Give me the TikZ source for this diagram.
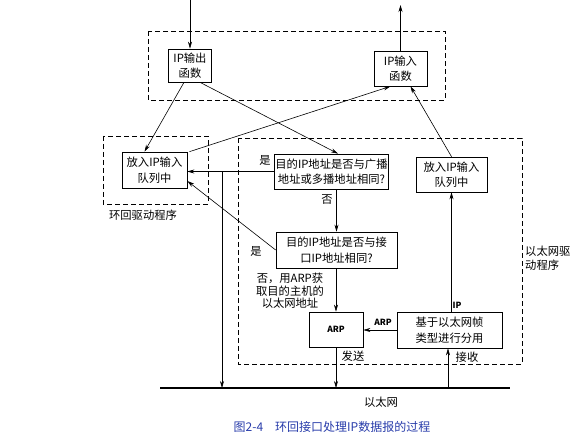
\documentclass[tikz,border=0pt]{standalone}
\usepackage{fontspec}
\setmainfont{Noto Sans CJK SC}
\usetikzlibrary{arrows.meta,calc}
\definecolor{capblue}{RGB}{40,60,170}
\tikzset{
  box/.style={draw,line width=0.7pt,align=center,inner sep=1pt,font=\fontsize{11.3}{15.5}\selectfont},
  dbox/.style={draw,dashed,line width=0.7pt,dash pattern=on 5pt off 3pt},
  arr/.style={-{Stealth[length=7pt,width=4pt]},line width=0.6pt},
  lbl/.style={font=\fontsize{11.3}{14}\selectfont,align=center,inner sep=0pt},
  small/.style={font=\fontsize{8.5}{10}\selectfont\bfseries,inner sep=0pt}
}
\begin{document}
\begin{tikzpicture}[x=1pt,y=-1pt]
\useasboundingbox (0,0) rectangle (579,435);
% dashed enclosures
\draw[dbox] (148,31) rectangle (445,100);
\draw[dbox] (103,136) rectangle (208,204);
\draw[dbox] (238,138) rectangle (522,364);
% boxes
\node[box,minimum width=43pt,minimum height=33pt] (out) at (190,65.5) {IP输出\\函数};
\node[box,minimum width=53pt,minimum height=35pt] (in) at (400.5,68.5) {IP输入\\函数};
\node[box,minimum width=65pt,minimum height=36pt] (lq) at (154.5,170) {放入IP输入\\队列中};
\node[box,minimum width=108pt,minimum height=35pt] (d1) at (331.5,171.5) {目的IP地址是否与广播\\地址或多播地址相同?};
\node[box,minimum width=71pt,minimum height=35pt] (rq) at (451.5,174.5) {放入IP输入\\队列中};
\node[box,minimum width=121pt,minimum height=36pt] (d2) at (336.5,250) {目的IP地址是否与接\\口IP地址相同?};
\node[box,minimum width=54pt,minimum height=35pt,font=\fontsize{8.5}{10}\selectfont\bfseries] (arp) at (336,329.5) {ARP};
\node[box,minimum width=105pt,minimum height=36pt] (demux) at (449.5,330) {基于以太网帧\\类型进行分用};
% ethernet
\coordinate (ethL) at (160,388);
\coordinate (ethR) at (510,388);
\draw[line width=2pt] (ethL) -- (ethR);
\coordinate (eth) at (0,388);
% external arrows
\coordinate (topin) at (190,0);
\coordinate (topout) at (400.5,5);
\draw[arr] (topin) -- (out.north);
\draw[arr] (in.north) -- (topout);
% connectors
\draw[arr] ([xshift=-6pt]out.south) -- ([xshift=-10pt]lq.north);
\draw[arr] ([xshift=10pt]out.south) -- ([xshift=6.5pt]d1.north);
\draw[arr] ([xshift=35pt]lq.north) -- ([xshift=-10pt]in.south);
\draw[arr] (rq.north) -- ([xshift=10pt]in.south);
\draw[arr] (d1.west) -- (d1.west -| lq.east);
\coordinate (j1) at (222,171.5);
\draw[arr] (j1) -- (j1 |- eth);
\draw[arr] (d2.west) -- ($(lq.east)+(0,11)$);
\draw[arr] (d2.north |- d1.south) -- (d2.north);
\draw[arr] (d2.south -| arp.north) -- (arp.north);
\draw[arr] (demux.west) -- (demux.west -| arp.east);
\draw[arr] (rq.south |- demux.north) -- (rq.south);
\draw[arr] (arp.south) -- (arp.south |- eth);
\coordinate (rx) at (448,388);
\draw[arr] (rx) -- (rx |- demux.south);
% labels
\node[lbl] (l1) at (265,160) {是};
\node[lbl] (l2) at (327,200) {否};
\node[lbl] (l3) at (256,251) {是};
\node[lbl,font=\fontsize{11.3}{12.5}\selectfont] (l4) at (290,291) {否，用ARP获\\取目的主机的\\以太网地址};
\node[small] (l5) at (383,322) {ARP};
\node[small] (l6) at (457,305) {IP};
\node[lbl] (l7) at (353,356) {发送};
\node[lbl] (l8) at (467,357) {接收};
\node[lbl] (l9) at (381,402) {以太网};
\node[lbl] (l10) at (143,215) {环回驱动程序};
\node[lbl,align=left,anchor=west] (l11) at (525,258) {以太网驱\\动程序};
\node[lbl,text=capblue,font=\fontsize{12}{14}\selectfont] (cap) at (332,427) {图2-4\quad 环回接口处理IP数据报的过程};
\end{tikzpicture}
\end{document}
